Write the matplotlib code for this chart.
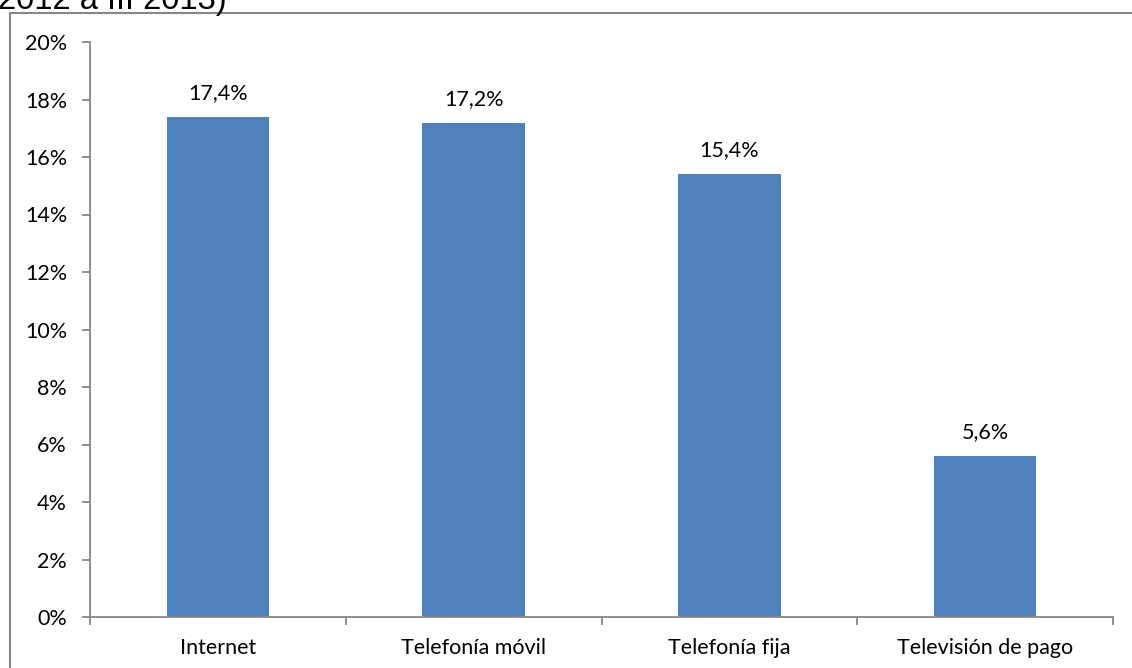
import matplotlib
matplotlib.use("Agg")
import matplotlib.pyplot as plt
from matplotlib.lines import Line2D
import numpy as np

categories = ["Internet", "Telefonía móvil", "Telefonía fija", "Televisión de pago"]
growth = [17.4, 17.2, 15.4, 5.6]
yticks = [0, 2, 4, 6, 8, 10, 12, 14, 16, 18, 20]

W, H = 1132, 668
plt.rcParams["font.family"] = ["Lato", "DejaVu Sans"]
fs = 15.5

fig = plt.figure(figsize=(W / 100, H / 100), dpi=100)
ax = fig.add_axes([90 / W, 1 - 617 / H, (1113 - 90) / W, (617 - 42) / H])

x = np.arange(len(categories))
ax.bar(x, growth, width=0.4, color="#4F81BD", zorder=2)
for xi, v in zip(x, growth):
    ax.annotate(f"{v:.1f}%".replace(".", ","), (xi, v), xytext=(0, 10),
                textcoords="offset points", ha="center", va="bottom", fontsize=fs)

ax.set_xlim(-0.5, len(categories) - 0.5)
ax.set_ylim(0, 20)
ax.set_yticks(yticks)
ax.set_yticklabels([f"{t}%" for t in yticks])

# category boundaries carry the tick marks, names sit in between
ax.set_xticks(np.arange(-0.5, len(categories)))
ax.set_xticklabels([])
ax.set_xticks(x, minor=True)
ax.set_xticklabels(categories, minor=True)

axis_grey = "#868686"
for side in ("top", "right"):
    ax.spines[side].set_visible(False)
for side in ("left", "bottom"):
    ax.spines[side].set_color(axis_grey)
    ax.spines[side].set_linewidth(1.3)
ax.tick_params(axis="y", which="major", direction="out", length=5.5, width=1.3,
               color=axis_grey, pad=11, labelsize=fs)
ax.tick_params(axis="x", which="major", direction="out", length=5.5, width=1.3,
               color=axis_grey)
ax.tick_params(axis="x", which="minor", length=0, pad=15, labelsize=fs)

# outer frame of the chart area
fx, fy = 9.5 / W, 1 - 12.5 / H
fig.add_artist(Line2D([fx, fx], [0, fy], color=axis_grey, lw=1.5, transform=fig.transFigure))
fig.add_artist(Line2D([fx, 1], [fy, fy], color=axis_grey, lw=1.5, transform=fig.transFigure))

fig.text(-0.002, 1 - 9 / H, "2012 a III 2013)", fontsize=23.5, va="baseline", ha="left",
         family=["Liberation Sans", "DejaVu Sans"])

fig.savefig("out.png", dpi=100)
